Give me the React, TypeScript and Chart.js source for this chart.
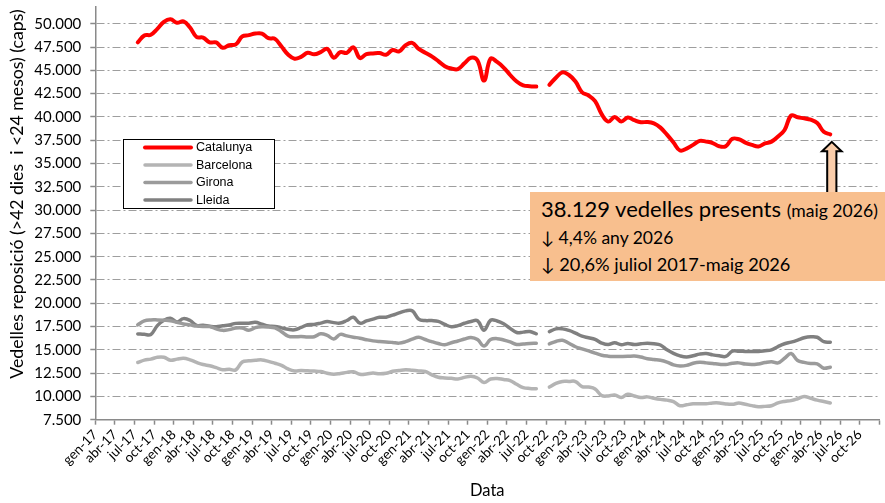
import React, { useEffect, useRef } from 'react';
import { Chart, registerables } from 'chart.js';

Chart.register(...registerables);

// months are counted from gen-17 (index 0); the series start at jul-17 (index 6)
const FIRST_MONTH = 6;
const AXIS_MONTHS = 120;

const quarterLabels = [
  'gen-17', 'abr-17', 'jul-17', 'oct-17',
  'gen-18', 'abr-18', 'jul-18', 'oct-18',
  'gen-19', 'abr-19', 'jul-19', 'oct-19',
  'gen-20', 'abr-20', 'jul-20', 'oct-20',
  'gen-21', 'abr-21', 'jul-21', 'oct-21',
  'gen-22', 'abr-22', 'jul-22', 'oct-22',
  'gen-23', 'abr-23', 'jul-23', 'oct-23',
  'gen-24', 'abr-24', 'jul-24', 'oct-24',
  'gen-25', 'abr-25', 'jul-25', 'oct-25',
  'gen-26', 'abr-26', 'jul-26', 'oct-26',
];

const yTickValues = [
  7500, 10000, 12500, 15000, 17500, 20000, 22500, 25000, 27500,
  30000, 32500, 35000, 37500, 40000, 42500, 45000, 47500, 50000,
];

// monthly values jul-17 .. maig-26 (null = no data, set-22)
const catalunya = [
  48000, 48750, 48820, 49450, 50200, 50480,
  50100, 50250, 49600, 48580, 48520, 48000,
  48000, 47420, 47700, 47780, 48650, 48780,
  48950, 48950, 48450, 48380, 47560, 46700,
  46250, 46450, 46880, 46720, 46950, 47310,
  46350, 46950, 46880, 47480, 46320, 46750,
  46820, 46850, 46680, 47180, 47030, 47700,
  47950, 47300, 46900, 46500, 46000, 45450,
  45200, 45130, 45750, 46350, 46050, 43900,
  46250, 45900, 45300, 44500, 43800, 43380,
  43300, 43260, null, 43450, 44200, 44780,
  44500, 43800, 42650, 42300, 41700, 40300,
  39500, 40000, 39520, 39930, 39650, 39440,
  39450, 39300, 38850, 38100, 37250, 36390,
  36600, 37000, 37430, 37350, 37200, 36850,
  36850, 37650, 37600, 37250, 37000, 36830,
  37150, 37350, 37900, 38600, 40150, 39960,
  39850, 39700, 39350, 38400, 38129,
];

const barcelona = [
  13640, 13900, 14000, 14200, 14200, 13880,
  14000, 14100, 13930, 13650, 13420, 13290,
  13090, 12870, 12910, 12850, 13700, 13820,
  13870, 13920, 13760, 13560, 13340, 12950,
  12730, 12780, 12750, 12720, 12670, 12490,
  12390, 12470, 12580, 12640, 12380, 12400,
  12500, 12430, 12480, 12700, 12780, 12850,
  12800, 12740, 12670, 12320, 12050, 11980,
  11940, 11880, 12040, 12170, 11980, 11500,
  11870, 11930, 11820, 11700, 11300, 10950,
  10850, 10820, null, 11000, 11400, 11610,
  11610, 11600, 11050, 11000, 10800, 10100,
  10050, 10150, 9880, 10230, 10050, 9880,
  9950, 9800, 9680, 9600, 9450, 9000,
  9100, 9210, 9210, 9210, 9300, 9300,
  9190, 9150, 9280, 9150, 9010, 8900,
  8930, 9000, 9300, 9460, 9550, 9750,
  10000, 9800, 9600, 9450, 9300,
];

const girona = [
  17680, 18100, 18210, 18210, 18180, 18130,
  17950, 17780, 17680, 17550, 17500, 17500,
  17250, 17090, 17170, 17350, 17350, 17100,
  17380, 17480, 17450, 17350, 16950, 16480,
  16400, 16430, 16380, 16400, 16720, 16550,
  16170, 16660, 16500, 16360, 16250, 16090,
  15960, 15890, 15850, 15790, 15720, 15880,
  16150, 16350, 16110, 15880, 15680, 15540,
  15760, 15950, 16160, 16320, 16100, 15400,
  16100, 16200, 16060, 15850, 15580, 15620,
  15680, 15710, null, 15640, 15900, 16030,
  15700, 15330, 15100, 14880, 14650, 14420,
  14320, 14290, 14290, 14300, 14340, 14230,
  14050, 13960, 13880, 13690, 13380, 13260,
  13330, 13560, 13660, 13600, 13530, 13450,
  13420, 13560, 13600, 13470, 13420, 13490,
  13630, 13720, 13600, 14100, 14600, 13850,
  13650, 13530, 13500, 13030, 13140,
];

const lleida = [
  16710, 16660, 16650, 17600, 18170, 18380,
  18000, 18350, 18150, 17620, 17630, 17530,
  17480, 17590, 17670, 17840, 17860, 17860,
  17950, 17750, 17560, 17510, 17360, 17200,
  17150, 17400, 17690, 17730, 17870, 18030,
  17920, 17880, 18150, 18490, 17860, 18100,
  18300, 18490, 18500, 18720, 18960, 19180,
  19200, 18300, 18140, 18140, 18060, 17720,
  17480, 17600, 17850, 18050, 18120, 17100,
  18180, 18100, 17800, 17300, 16860, 16900,
  16960, 16720, null, 16960, 17250, 17250,
  17080, 16800, 16470, 16300, 16120, 15730,
  15560, 15750, 15550, 15680, 15560, 15650,
  15700, 15650, 15520, 15000, 14620, 14350,
  14230, 14360, 14540, 14600, 14460, 14360,
  14290, 14850, 14860, 14820, 14820, 14820,
  14900, 15000, 15350, 15650, 15830, 16050,
  16300, 16400, 16350, 15880, 15820,
];

const seriesNames = ['Catalunya', 'Barcelona', 'Girona', 'Lleida'];
const seriesValues = [catalunya, barcelona, girona, lleida];

// styles (kept apart from the data)
const seriesColors = ['#FF0000', '#B4B4B4', '#9B9B9B', '#808080'];
const seriesWidths = [4, 3.5, 3.5, 3.5];

const Y_MIN = 7500;
const Y_MAX = 51800;

const yTitle = 'Vedelles reposició (>42 dies  i <24 mesos) (caps)';
const xTitle = 'Data';

const annotationMain = '38.129 vedelles presents';
const annotationDate = '(maig 2026)';
const annotationLine2 = '↓ 4,4% any 2026';
const annotationLine3 = '↓ 20,6% juliol 2017-maig 2026';

const FONT = 'Lato, "Open Sans", sans-serif';
const AXIS_GREY = '#8A8A8A';

const toPoints = (values: (number | null)[]) =>
  values.map((v, i) => ({ x: FIRST_MONTH + i + 0.5, y: v }));

const fmtThousands = (v: number) =>
  Math.round(v).toString().replace(/\B(?=(\d{3})+(?!\d))/g, '.');

const overlayPlugin = {
  id: 'overlay',
  afterDatasetsDraw(chart: any) {
    const { ctx, scales } = chart;
    const xs = scales.x;
    const ys = scales.y;

    // y-axis title
    ctx.save();
    ctx.translate(17.5, 194);
    ctx.rotate(-Math.PI / 2);
    ctx.font = '17.7px ' + FONT;
    ctx.fillStyle = '#000';
    ctx.textAlign = 'center';
    ctx.textBaseline = 'middle';
    ctx.fillText(yTitle, 0, 0);
    ctx.restore();

    // arrow pointing to the last Catalunya value
    const lastIdx = catalunya.length - 1;
    const ax = xs.getPixelForValue(FIRST_MONTH + lastIdx + 0.5) + 1.5;
    const tipY = ys.getPixelForValue(catalunya[lastIdx] as number) + 7.5;
    const baseY = 198;
    ctx.save();
    ctx.beginPath();
    ctx.moveTo(ax, tipY);
    ctx.lineTo(ax + 9.8, tipY + 9.5);
    ctx.lineTo(ax + 4.6, tipY + 9.5);
    ctx.lineTo(ax + 4.6, baseY);
    ctx.lineTo(ax - 4.6, baseY);
    ctx.lineTo(ax - 4.6, tipY + 9.5);
    ctx.lineTo(ax - 9.8, tipY + 9.5);
    ctx.closePath();
    ctx.fillStyle = '#FACDAA';
    ctx.fill();
    ctx.lineWidth = 2;
    ctx.strokeStyle = '#000';
    ctx.lineJoin = 'miter';
    ctx.stroke();
    ctx.restore();

    // legend box
    const lx = 123.5;
    const ly = 139.5;
    const lw = 151;
    const lh = 69;
    ctx.save();
    ctx.fillStyle = '#FFFFFF';
    ctx.fillRect(lx, ly, lw, lh);
    ctx.strokeStyle = '#000';
    ctx.lineWidth = 1;
    ctx.strokeRect(lx, ly, lw, lh);
    ctx.font = '12.5px "Liberation Sans", Arial, sans-serif';
    ctx.textBaseline = 'middle';
    ctx.textAlign = 'left';
    seriesNames.forEach((name, i) => {
      const yy = 147.5 + i * 17.5;
      ctx.beginPath();
      ctx.strokeStyle = seriesColors[i];
      ctx.lineWidth = seriesWidths[i];
      ctx.lineCap = 'round';
      ctx.moveTo(145, yy);
      ctx.lineTo(191, yy);
      ctx.stroke();
      ctx.fillStyle = '#000';
      ctx.fillText(name, 196, yy + 0.5);
    });
    ctx.restore();
  },
};

export default function App() {
  const canvasRef = useRef<HTMLCanvasElement | null>(null);

  useEffect(() => {
    const canvas = canvasRef.current;
    if (!canvas) return;
    const chart = new Chart(canvas, {
      type: 'line',
      data: {
        datasets: seriesNames.map((name, i) => ({
          label: name,
          data: toPoints(seriesValues[i]),
          borderColor: seriesColors[i],
          backgroundColor: seriesColors[i],
          borderWidth: seriesWidths[i],
          pointRadius: 0,
          pointHoverRadius: 0,
          tension: 0.4,
          spanGaps: false,
          fill: false,
          borderCapStyle: 'round',
          borderJoinStyle: 'round',
        })),
      },
      options: {
        animation: false,
        responsive: false,
        devicePixelRatio: 1,
        layout: { padding: { left: 0, right: 5.7, top: 7, bottom: 0 } },
        plugins: {
          legend: { display: false },
          tooltip: { enabled: false },
        },
        scales: {
          x: {
            type: 'linear',
            min: 0,
            max: AXIS_MONTHS,
            ticks: {
              stepSize: 3,
              autoSkip: false,
              maxRotation: 45,
              minRotation: 45,
              padding: 2,
              color: '#000',
              font: { family: FONT, size: 13.5 },
              callback: (v: any) => {
                const idx = Math.round(Number(v) / 3);
                return quarterLabels[idx] ?? '';
              },
            },
            grid: {
              drawOnChartArea: false,
              drawTicks: true,
              tickLength: 5,
              tickColor: AXIS_GREY,
              tickWidth: 1.5,
              tickBorderDash: [],
            },
            border: { display: true, color: AXIS_GREY, width: 1.5 },
            title: {
              display: true,
              text: xTitle,
              color: '#000',
              font: { family: FONT, size: 16.5 },
              padding: { top: 0, bottom: 2 },
            },
            afterFit: (s: any) => {
              s.height = 83.3;
              s.paddingLeft = 0;
              s.paddingRight = 0;
            },
          },
          y: {
            type: 'linear',
            min: Y_MIN,
            max: Y_MAX,
            afterBuildTicks: (s: any) => {
              s.ticks = yTickValues.map((v) => ({ value: v }));
            },
            ticks: {
              padding: 9,
              color: '#000',
              font: { family: FONT, size: 15 },
              callback: (v: any) => fmtThousands(Number(v)),
            },
            grid: {
              color: '#9E9E9E',
              lineWidth: 1,
              drawTicks: true,
              tickLength: 5,
              tickColor: AXIS_GREY,
              tickWidth: 1.5,
              tickBorderDash: [],
            },
            border: { display: true, color: AXIS_GREY, width: 1.5, dash: [8, 3, 2, 3] },
            title: { display: false },
            afterFit: (s: any) => {
              s.width = 95.3;
              s.paddingTop = 0;
              s.paddingBottom = 0;
            },
          },
        },
      },
      plugins: [overlayPlugin],
    } as any);
    return () => chart.destroy();
  }, []);

  return (
    <div style={{ position: 'fixed', left: 0, top: 0, width: 885, height: 503, background: '#fff', overflow: 'hidden' }}>
      <canvas ref={canvasRef} width={885} height={503} style={{ width: 885, height: 503, display: 'block' }} />
      <div
        style={{
          position: 'absolute',
          left: 530,
          top: 192,
          width: 355,
          height: 89,
          background: '#F8BF8E',
          fontFamily: FONT,
          color: '#000',
          whiteSpace: 'nowrap',
        }}
      >
        <div style={{ position: 'absolute', left: 11, top: 5.8, fontSize: 22, lineHeight: 1 }}>
          {annotationMain} <span style={{ fontSize: 17.6 }}>{annotationDate}</span>
        </div>
        <div style={{ position: 'absolute', left: 11, top: 37, fontSize: 17.5, lineHeight: 1 }}>{annotationLine2}</div>
        <div style={{ position: 'absolute', left: 11, top: 63, fontSize: 18.2, lineHeight: 1 }}>{annotationLine3}</div>
      </div>
    </div>
  );
}
